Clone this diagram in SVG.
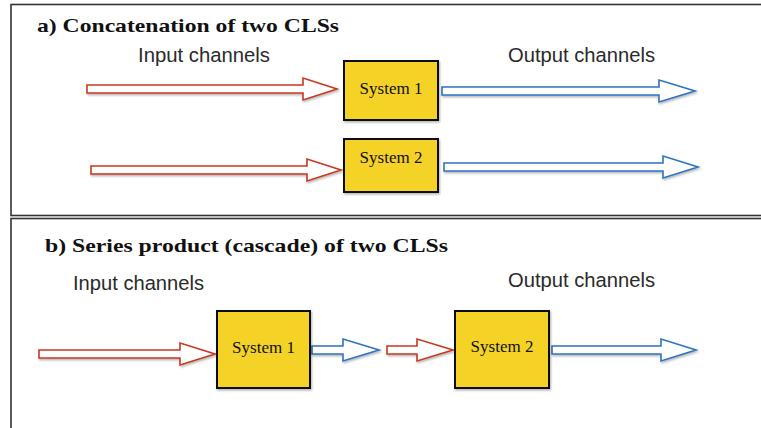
<svg xmlns="http://www.w3.org/2000/svg" width="761" height="428" viewBox="0 0 761 428">
  <defs>
    <filter id="shadow" x="-10%" y="-10%" width="130%" height="130%">
      <feDropShadow dx="1" dy="1.5" stdDeviation="1" flood-color="#000" flood-opacity="0.3"/>
    </filter>
    <style>
      .panel { fill: #fff; stroke: #333; stroke-width: 1.6; }
      .title { font-family: "Liberation Serif", "DejaVu Serif", serif; font-weight: bold; font-size: 19.5px; fill: #111; }
      .label { font-family: "Liberation Sans", Arial, sans-serif; font-size: 20.5px; fill: #2a2a2a; }
      .box { fill: #F5D227; stroke: #111; stroke-width: 2; filter: url(#shadow); }
      .boxtext { font-family: "Liberation Serif", "DejaVu Serif", serif; font-size: 17px; fill: #111; text-anchor: middle; }
      .in { fill: #fff; stroke: #C8391F; stroke-width: 1.6; stroke-linejoin: miter; filter: url(#shadow); }
      .out { fill: #fff; stroke: #2F73C2; stroke-width: 1.6; stroke-linejoin: miter; filter: url(#shadow); }
    </style>
  </defs>

  <rect width="761" height="428" fill="#fff"/>

  <!-- panel frames -->
  <rect class="panel" x="11" y="4.5" width="760" height="211"/>
  <rect class="panel" x="11" y="218.5" width="760" height="220"/>

  <!-- panel a -->
  <text class="title" x="37" y="32" textLength="302" lengthAdjust="spacingAndGlyphs">a) Concatenation of two CLSs</text>
  <text class="label" x="138" y="62" textLength="132" lengthAdjust="spacingAndGlyphs">Input channels</text>
  <text class="label" x="508" y="62" textLength="147" lengthAdjust="spacingAndGlyphs">Output channels</text>

  <!-- panel b -->
  <text class="title" x="45" y="252" textLength="403" lengthAdjust="spacingAndGlyphs">b) Series product (cascade) of two CLSs</text>
  <text class="label" x="73" y="290" textLength="131" lengthAdjust="spacingAndGlyphs">Input channels</text>
  <text class="label" x="508" y="287" textLength="147" lengthAdjust="spacingAndGlyphs">Output channels</text>

  <!-- connectors: block arrows -->
  <g id="connectors">
    <polygon class="in" points="87,85 303,85 303,78 337,89 303,100 303,93 87,93"/>
    <polygon class="out" points="442,87 659,87 659,80 695,91 659,102 659,95 442,95"/>
    <polygon class="in" points="91,166 307,166 307,159 341,170 307,181 307,174 91,174"/>
    <polygon class="out" points="444,163 663,163 663,156 698,167 663,178 663,171 444,171"/>
    <polygon class="in" points="39,350 180,350 180,343 215,354 180,365 180,358 39,358"/>
    <polygon class="out" points="312,346 343,346 343,339 379,350 343,361 343,354 312,354"/>
    <polygon class="in" points="387,346 417,346 417,339 453,350 417,361 417,354 387,354"/>
    <polygon class="out" points="552,346 661,346 661,339 696,350 661,361 661,354 552,354"/>
  </g>

  <!-- systems -->
  <g id="a-system1">
    <rect class="box" x="344" y="61" width="94" height="59"/>
    <text class="boxtext" x="391" y="94">System 1</text>
  </g>
  <g id="a-system2">
    <rect class="box" x="344" y="139" width="94" height="53"/>
    <text class="boxtext" x="391" y="163">System 2</text>
  </g>
  <g id="b-system1">
    <rect class="box" x="217" y="311" width="93" height="77"/>
    <text class="boxtext" x="263.5" y="353">System 1</text>
  </g>
  <g id="b-system2">
    <rect class="box" x="455" y="311" width="94" height="77"/>
    <text class="boxtext" x="502" y="352">System 2</text>
  </g>
</svg>
